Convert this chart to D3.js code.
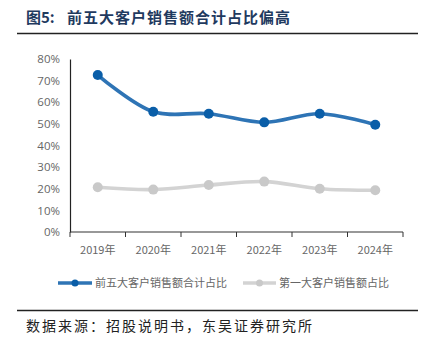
<!DOCTYPE html>
<html><head><meta charset="utf-8">
<script src="https://cdn.jsdelivr.net/npm/d3@7"></script>
<style>body{margin:0;background:#fff}svg{display:block}</style>
</head><body>
<svg id="c" width="431" height="341"></svg>
<script>
const categories = ["2019年","2020年","2021年","2022年","2023年","2024年"];
const top5Share = [72.6, 55.6, 54.7, 50.7, 54.7, 49.6];
const top1Share = [20.7, 19.6, 21.7, 23.3, 20.0, 19.3];
const yTicks = [0,10,20,30,40,50,60,70,80];
const seriesNames = ["前五大客户销售额合计占比","第一大客户销售额占比"];
const titleLabel = "图5:";
const titleText = "前五大客户销售额合计占比偏高";
const sourceText = "数据来源：招股说明书，东吴证券研究所";

const svg = d3.select("#c");
const cjk = "'Noto Sans CJK SC','Noto Sans',sans-serif";

svg.append("text").attr("x",26).attr("y",23).attr("font-family",cjk)
  .attr("font-weight","bold").attr("font-size",15).attr("fill","#1f3a5f").text(titleLabel);
svg.append("text").attr("x",67).attr("y",23).attr("font-family",cjk)
  .attr("font-weight","bold").attr("font-size",15).attr("letter-spacing",1).attr("fill","#1f3a5f").text(titleText);
svg.append("line").attr("x1",17).attr("x2",418).attr("y1",33.5).attr("y2",33.5)
  .attr("stroke","#222").attr("stroke-width",1.6);

const x = d3.scaleBand().domain(categories).range([70,403]);
const y = d3.scaleLinear().domain([0,80]).range([232,59]);

// y axis
const ya = svg.append("g").attr("transform","translate(70,0)")
  .call(d3.axisLeft(y).tickValues(yTicks).tickFormat(d=>d+"%").tickSize(0).tickPadding(10));
ya.select(".domain").attr("stroke","#222").attr("stroke-width",1.2);
ya.selectAll("text").attr("font-family","'Open Sans','Noto Sans',sans-serif").attr("font-size",11.5).attr("fill","#666");
ya.selectAll(".tick line").remove();

// x axis
const xa = svg.append("g").attr("transform","translate(0,232)")
  .call(d3.axisBottom(x).tickSize(0).tickPadding(14));
xa.select(".domain").remove();
xa.selectAll("text").attr("font-family",cjk).attr("font-size",11).attr("fill","#666");
svg.append("line").attr("x1",70).attr("x2",403).attr("y1",232).attr("y2",232).attr("stroke","#333").attr("stroke-width",1.2);
const edges = categories.map(c=>x(c)).concat([x.range()[1]]);
svg.selectAll(".xt").data(edges).enter().append("line")
  .attr("x1",d=>d).attr("x2",d=>d).attr("y1",232).attr("y2",237).attr("stroke","#333").attr("stroke-width",1);

const cx = c => x(c)+x.bandwidth()/2;
const line = d3.line().x((d,i)=>cx(categories[i])).y(d=>y(d)).curve(d3.curveCatmullRom.alpha(0.5));

const series = [
  {vals: top5Share, line:"#2e74b5", dot:"#0a5ea8"},
  {vals: top1Share, line:"#d3d3d3", dot:"#c9c9c9"}
];
series.slice().reverse().forEach(s=>{
  svg.append("path").attr("d",line(s.vals)).attr("fill","none").attr("stroke",s.line).attr("stroke-width",3.6).attr("stroke-linecap","round");
  svg.selectAll(null).data(s.vals).enter().append("circle")
    .attr("cx",(d,i)=>cx(categories[i])).attr("cy",d=>y(d)).attr("r",5).attr("fill",s.dot);
});

// legend
const lg = [{x1:58,x2:92,tx:95,s:series[0],n:seriesNames[0]},{x1:243,x2:276,tx:279,s:series[1],n:seriesNames[1]}];
lg.forEach(l=>{
  svg.append("line").attr("x1",l.x1).attr("x2",l.x2).attr("y1",283).attr("y2",283).attr("stroke",l.s.line).attr("stroke-width",3.6);
  svg.append("circle").attr("cx",(l.x1+l.x2)/2).attr("cy",283).attr("r",3.5).attr("fill",l.s.dot);
  svg.append("text").attr("x",l.tx).attr("y",287).attr("font-family",cjk).attr("font-size",11).attr("fill","#666").text(l.n);
});

svg.append("line").attr("x1",17).attr("x2",418).attr("y1",310.5).attr("y2",310.5).attr("stroke","#222").attr("stroke-width",1.4);
svg.append("text").attr("x",26).attr("y",331).attr("font-family",cjk).attr("font-size",14).attr("letter-spacing",2).attr("fill","#222").text(sourceText);
</script>
</body></html>
